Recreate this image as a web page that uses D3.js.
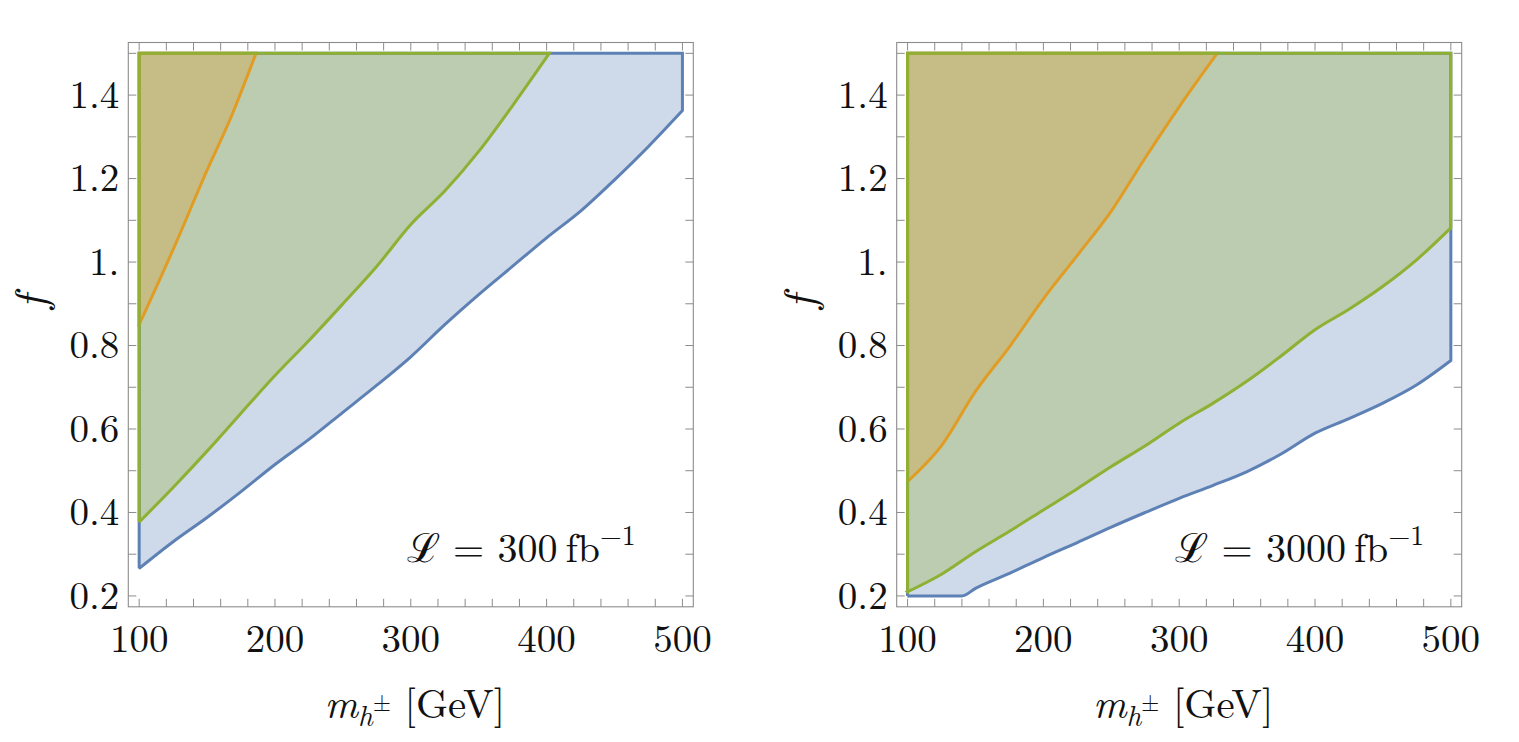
<!DOCTYPE html>
<html><head><meta charset="utf-8">
<script src="https://cdn.jsdelivr.net/npm/d3@7"></script>
<style>body{margin:0;background:#fff}</style>
</head><body>
<svg id="c" width="1519" height="742" style="background:#fff"></svg>
<script>
// ---- data ----
const xTickValues = [100, 200, 300, 400, 500];
const xMinorTicks = d3.range(100, 501, 20);
const yTickValues = [0.2, 0.4, 0.6, 0.8, 1.0, 1.2, 1.4];
const yTickLabels = ["0.2", "0.4", "0.6", "0.8", "1.", "1.2", "1.4"];
const yMinorTicks = d3.range(2, 16, 1).map(d => d / 10);
const lumiLabels = ["300", "3000"];

// L = 300 fb^-1
const blue300 = [[100,0.266],[125,0.33],[150,0.388],[175,0.45],[200,0.515],[225,0.575],[250,0.64],[275,0.705],[300,0.773],[325,0.85],[350,0.922],[375,0.99],[400,1.058],[425,1.122],[450,1.197],[475,1.277],[500,1.363]];
const green300 = [[100,0.377],[125,0.46],[150,0.547],[175,0.638],[200,0.728],[225,0.812],[250,0.9],[275,0.99],[300,1.09],[325,1.17],[350,1.265],[375,1.375],[402,1.5]];
const orange300 = [[100,0.85],[125,1.03],[150,1.22],[168,1.35],[186,1.5]];

// L = 3000 fb^-1
const blue3000 = [[100,0.2],[140,0.2],[150,0.218],[175,0.254],[200,0.292],[225,0.328],[250,0.365],[275,0.4],[300,0.434],[325,0.465],[350,0.498],[375,0.54],[400,0.59],[425,0.625],[450,0.662],[475,0.706],[500,0.764]];
const green3000 = [[100,0.21],[125,0.252],[150,0.306],[175,0.355],[200,0.406],[225,0.457],[250,0.51],[275,0.56],[300,0.614],[325,0.662],[350,0.715],[375,0.775],[400,0.838],[425,0.887],[450,0.942],[475,1.006],[500,1.082]];
const orange3000 = [[100,0.474],[125,0.56],[150,0.69],[175,0.797],[200,0.912],[225,1.016],[250,1.122],[275,1.25],[300,1.372],[328,1.5]];

const colors = { blue: "#5E81B5", green: "#8FB032", orange: "#E19C24" };
const panels = [
  { x0: 128.3, lumi: lumiLabels[0], blue: blue300, green: green300, orange: orange300 },
  { x0: 896.7, lumi: lumiLabels[1], blue: blue3000, green: green3000, orange: orange3000 }
];

const W = 565, plotTop = 42.5, plotBottom = 606.8;
const FONT = '"Latin Modern Roman", "Liberation Serif", serif';
const svg = d3.select("#c");

panels.forEach(p => {
  const x = d3.scaleLinear().domain([92, 508]).range([p.x0, p.x0 + W]);
  const y = d3.scaleLinear().domain([0.174, 1.526]).range([plotBottom, plotTop]);
  const g = svg.append("g");
  const curveLine = d3.line().x(d => x(d[0])).y(d => y(d[1])).curve(d3.curveMonotoneX);

  function regionPath(curve) {
    const c = curveLine(curve).replace(/^M/, "L");
    const last = curve[curve.length - 1];
    let d = `M${x(100)},${y(1.5)}L${x(100)},${y(curve[0][1])}` + c;
    if (last[1] < 1.5) d += `L${x(500)},${y(1.5)}`;
    return d + "Z";
  }

  ["blue", "green", "orange"].forEach(c => {
    g.append("path").attr("d", regionPath(p[c]))
      .attr("fill", colors[c]).attr("fill-opacity", 0.3).attr("stroke", "none");
  });
  ["blue", "orange", "green"].forEach(c => {
    g.append("path").attr("d", regionPath(p[c]))
      .attr("fill", "none").attr("stroke", colors[c]).attr("stroke-width", 3)
      .attr("stroke-linejoin", "miter");
  });

  // frame
  g.append("rect").attr("x", p.x0).attr("y", plotTop).attr("width", W).attr("height", plotBottom - plotTop)
    .attr("fill", "none").attr("stroke", "#8c8c8c").attr("stroke-width", 1.1);

  const tl = 8;
  xMinorTicks.forEach(v => {
    g.append("line").attr("x1", x(v)).attr("x2", x(v)).attr("y1", plotBottom).attr("y2", plotBottom - tl)
      .attr("stroke", "#8c8c8c").attr("stroke-width", 1);
    g.append("line").attr("x1", x(v)).attr("x2", x(v)).attr("y1", plotTop).attr("y2", plotTop + tl)
      .attr("stroke", "#8c8c8c").attr("stroke-width", 1);
  });
  yMinorTicks.forEach(v => {
    g.append("line").attr("x1", p.x0).attr("x2", p.x0 + tl).attr("y1", y(v)).attr("y2", y(v))
      .attr("stroke", "#8c8c8c").attr("stroke-width", 1);
    g.append("line").attr("x1", p.x0 + W).attr("x2", p.x0 + W - tl).attr("y1", y(v)).attr("y2", y(v))
      .attr("stroke", "#8c8c8c").attr("stroke-width", 1);
  });

  xTickValues.forEach(v => {
    g.append("text").attr("x", x(v)).attr("y", 652).attr("text-anchor", "middle")
      .style("font-family", FONT).attr("font-size", 39).attr("fill", "#111").text(v);
  });
  yTickValues.forEach((v, i) => {
    g.append("text").attr("x", p.x0 - 9).attr("y", y(v)).attr("dy", "0.33em").attr("text-anchor", "end")
      .style("font-family", FONT).attr("font-size", 39).attr("fill", "#111").text(yTickLabels[i]);
  });

  const xl = g.append("text").attr("x", p.x0 + W / 2 + 4).attr("y", 718).attr("text-anchor", "middle")
    .style("font-family", FONT).attr("font-size", 41).attr("fill", "#111");
  xl.append("tspan").attr("font-style", "italic").text("m");
  xl.append("tspan").attr("font-style", "italic").attr("font-size", 29).attr("dy", 8).text("h");
  xl.append("tspan").attr("font-size", 23).attr("dy", -15).text("±");
  xl.append("tspan").attr("dy", 7).text(" [GeV]");

  g.append("text").attr("transform", `translate(${p.x0 - 82},302) rotate(-90)`)
    .attr("text-anchor", "middle").attr("font-style", "italic")
    .style("font-family", FONT).attr("font-size", 45).attr("fill", "#111").text("f");

  const lt = g.append("text").attr("x", x(297)).attr("y", 562)
    .style("font-family", FONT).attr("font-size", 40).attr("fill", "#111");
  lt.append("tspan").text("ℒ");
  lt.append("tspan").text(" = " + p.lumi + "\u2009fb");
  lt.append("tspan").attr("font-size", 28).attr("dy", -17).text("−1");
});
</script>
</body></html>
